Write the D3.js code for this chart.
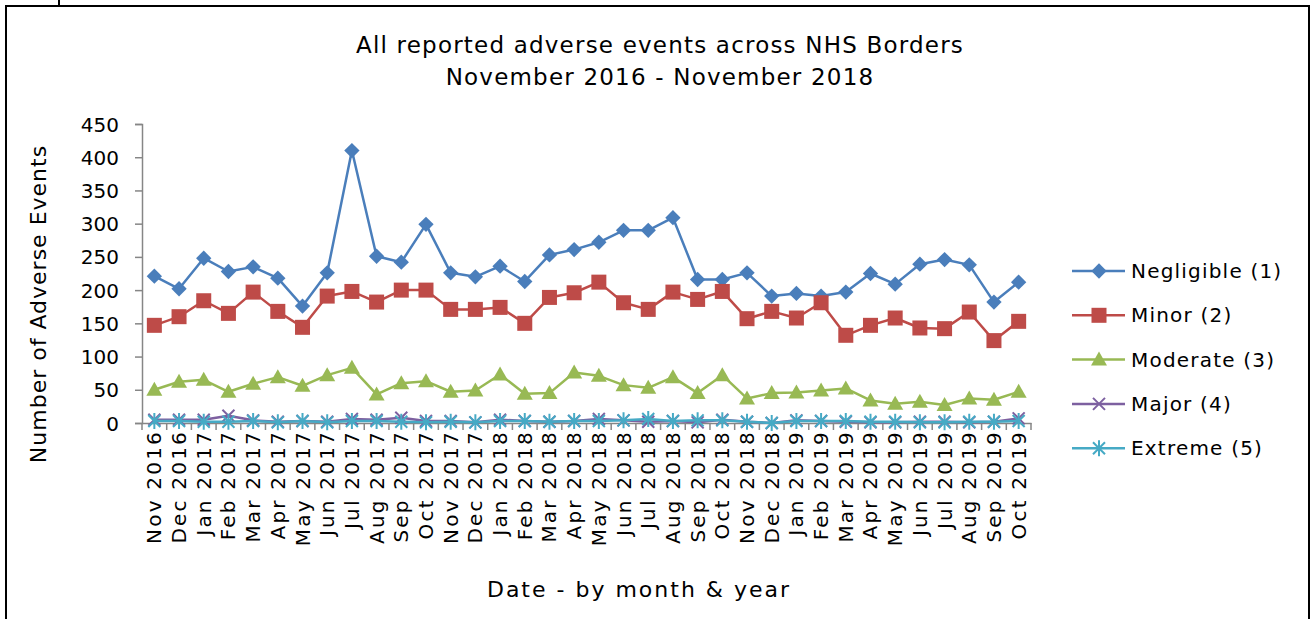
<!DOCTYPE html>
<html>
<head>
<meta charset="utf-8">
<script src="https://cdn.jsdelivr.net/npm/d3@7"></script>
<style>
  body { margin: 0; background: #fff; }
  text { font-family: "DejaVu Sans", sans-serif; fill: #000; }
</style>
</head>
<body>
<div id="chart"></div>
<script>
// months on the x axis
const months = ["Nov 2016","Dec 2016","Jan 2017","Feb 2017","Mar 2017","Apr 2017","May 2017","Jun 2017",
  "Jul 2017","Aug 2017","Sep 2017","Oct 2017","Nov 2017","Dec 2017","Jan 2018","Feb 2018","Mar 2018",
  "Apr 2018","May 2018","Jun 2018","Jul 2018","Aug 2018","Sep 2018","Oct 2018","Nov 2018","Dec 2018",
  "Jan 2019","Feb 2019","Mar 2019","Apr 2019","May 2019","Jun 2019","Jul 2019","Aug 2019","Sep 2019","Oct 2019"];

const negligible = [221,202,248,228,235,218,176,226,410,251,242,299,226,220,236,213,253,261,272,290,290,309,216,216,226,191,195,191,197,225,209,239,246,238,182,212];
const minor      = [147,160,184,165,197,168,144,191,198,182,200,200,171,171,174,150,189,196,212,181,171,197,186,198,157,168,158,181,132,147,158,143,142,167,124,153];
const moderate   = [50,62,65,47,59,69,56,72,83,43,60,63,47,49,73,44,45,76,71,57,53,69,45,72,37,45,46,49,52,34,29,32,27,37,35,47];
const major      = [5,5,5,11,4,2,3,2,6,5,8,3,3,1,5,3,2,3,6,4,2,3,1,5,2,0,4,3,2,1,1,2,2,1,2,7];
const extreme    = [3,3,2,2,3,1,3,1,3,3,2,1,2,1,3,3,2,3,3,4,6,3,4,4,2,0,3,3,3,2,2,1,1,2,2,3];

const seriesNames = ["Negligible (1)","Minor (2)","Moderate (3)","Major (4)","Extreme (5)"];
const yTicks = [0,50,100,150,200,250,300,350,400,450];

const series = [
  {name: seriesNames[0], values: negligible, color: "#4a7ebb", marker: "diamond"},
  {name: seriesNames[1], values: minor,      color: "#be4b48", marker: "square"},
  {name: seriesNames[2], values: moderate,   color: "#98b954", marker: "triangle"},
  {name: seriesNames[3], values: major,      color: "#7d60a0", marker: "x"},
  {name: seriesNames[4], values: extreme,    color: "#46aac5", marker: "star"}
];

const W = 1312, H = 619;
const svg = d3.select("#chart").append("svg").attr("width", W).attr("height", H);

// outer frame
svg.append("rect").attr("x", 6).attr("y", 6).attr("width", 1303).attr("height", 620)
  .attr("fill", "none").attr("stroke", "#000").attr("stroke-width", 2);
svg.append("line").attr("x1", 59).attr("x2", 59).attr("y1", 0).attr("y2", 6)
  .attr("stroke", "#000").attr("stroke-width", 2);

const x = d3.scaleBand().domain(months).range([142, 1031]);
const y = d3.scaleLinear().domain([0, 450]).range([423, 124]);

// title
const title = svg.append("text").attr("text-anchor", "middle")
  .style("font-size", "23px").style("letter-spacing", "1.2px");
title.append("tspan").attr("x", 660).attr("y", 53).text("All reported adverse events across NHS Borders");
title.append("tspan").attr("x", 660).attr("y", 85).text("November 2016 - November 2018");

// y axis
const yAxis = svg.append("g").attr("transform", "translate(142,0)")
  .call(d3.axisLeft(y).tickValues(yTicks).tickSize(7).tickPadding(16));
yAxis.select(".domain").attr("stroke", "#868686").attr("stroke-width", 1.5);
yAxis.selectAll(".tick line").attr("stroke", "#868686").attr("stroke-width", 1.5);
yAxis.selectAll(".tick text").style("font-size", "20px").attr("dy", "0.35em");

// x axis
const xAxis = svg.append("g").attr("transform", "translate(0,423)")
  .call(d3.axisBottom(x).tickSize(0).tickSizeOuter(0));
xAxis.select(".domain").attr("stroke", "#868686").attr("stroke-width", 1.5);
xAxis.selectAll(".tick line").remove();
xAxis.selectAll(".tick text")
  .style("font-size", "20px").style("letter-spacing", "2.2px")
  .attr("text-anchor", "end")
  .attr("transform", "rotate(-90)")
  .attr("x", -7).attr("y", 0).attr("dy", "0.35em");
// band edge ticks
svg.append("g").selectAll("line").data(months.concat(["end"]))
  .join("line")
  .attr("x1", (d, i) => i < months.length ? x(d) : x.range()[1])
  .attr("x2", (d, i) => i < months.length ? x(d) : x.range()[1])
  .attr("y1", 423).attr("y2", 430)
  .attr("stroke", "#868686").attr("stroke-width", 1.5);

// axis titles
svg.append("text").attr("transform", "translate(46,304) rotate(-90)")
  .attr("text-anchor", "middle").style("font-size", "22px").style("letter-spacing", "1px")
  .text("Number of Adverse Events");
svg.append("text").attr("x", 639).attr("y", 597)
  .attr("text-anchor", "middle").style("font-size", "22px").style("letter-spacing", "2px")
  .text("Date - by month & year");

function drawMarker(g, type, color) {
  if (type === "diamond") {
    g.append("path").attr("d", d3.symbol(d3.symbolDiamond2, 150)()).attr("fill", color);
  } else if (type === "square") {
    g.append("rect").attr("x", -7.5).attr("y", -7.5).attr("width", 15).attr("height", 15).attr("fill", color);
  } else if (type === "triangle") {
    g.append("path").attr("d", "M0,-8L8,6L-8,6Z").attr("fill", color);
  } else if (type === "x") {
    g.append("path").attr("d", "M-6,-6L6,6M-6,6L6,-6").attr("stroke", color).attr("stroke-width", 2);
  } else if (type === "star") {
    g.append("path").attr("d", "M-6,-6L6,6M-6,6L6,-6M0,-8L0,8").attr("stroke", color).attr("stroke-width", 2);
  }
}

const cx = d => x(d) + x.bandwidth() / 2;
const line = d3.line().x((d, i) => cx(months[i])).y(d => y(d));

series.forEach(s => {
  svg.append("path").datum(s.values).attr("d", line)
    .attr("fill", "none").attr("stroke", s.color).attr("stroke-width", 2.5).attr("stroke-linejoin", "round");
  svg.append("g").selectAll("g").data(s.values).join("g")
    .attr("transform", (d, i) => `translate(${cx(months[i])},${y(d)})`)
    .each(function () { drawMarker(d3.select(this), s.marker, s.color); });
});

// legend
const legend = svg.append("g").attr("transform", "translate(1072,271)");
series.forEach((s, i) => {
  const row = legend.append("g").attr("transform", `translate(0,${i * 44.3})`);
  row.append("line").attr("x1", 0).attr("x2", 53).attr("y1", 0).attr("y2", 0)
    .attr("stroke", s.color).attr("stroke-width", 2.5);
  drawMarker(row.append("g").attr("transform", "translate(27,0)"), s.marker, s.color);
  row.append("text").attr("x", 59).attr("y", 0).attr("dy", "0.35em")
    .style("font-size", "20px").style("letter-spacing", "1.2px").text(s.name);
});
</script>
</body>
</html>
